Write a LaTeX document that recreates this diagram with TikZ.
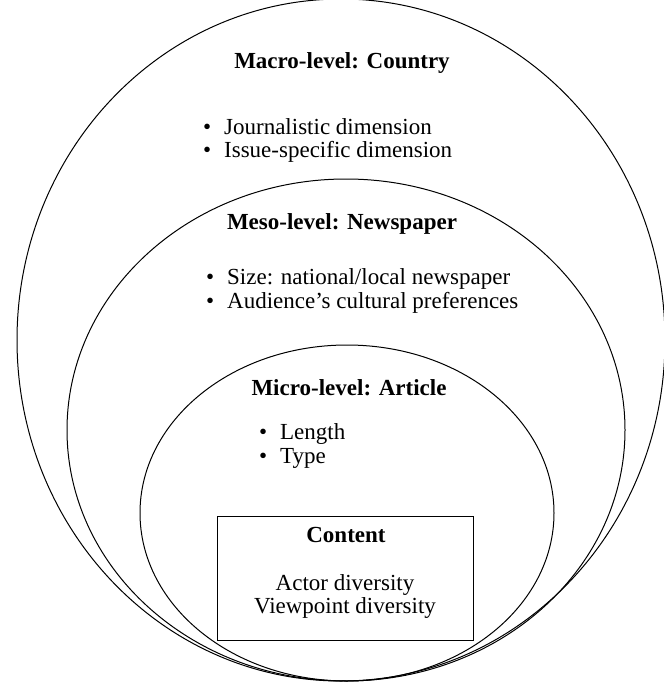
\documentclass[tikz,border=0pt]{standalone}
\usepackage{fontspec}
\setmainfont{Liberation Serif}
\usetikzlibrary{shapes.geometric}
\begin{document}
\begin{tikzpicture}[x=1pt,y=-1pt,
  ring/.style={draw, ellipse, line width=1pt, inner sep=0pt},
  head/.style={anchor=base, font=\fontsize{23}{24}\selectfont\bfseries, inner sep=0pt},
  item/.style={anchor=base west, font=\fontsize{23}{24}\selectfont, inner sep=0pt},
  plain/.style={anchor=base, font=\fontsize{23}{24}\selectfont, inner sep=0pt},
  box/.style={draw, line width=1pt, inner sep=0pt}]
\useasboundingbox (0,0) rectangle (664,683);
\node[ring, minimum width=648pt, minimum height=682pt] (outer) at (341,340) {};
\node[ring, minimum width=558pt, minimum height=502pt] (middle) at (346,430) {};
\node[ring, minimum width=414pt, minimum height=336pt] (inner) at (347,513) {};
\node[box, minimum width=256pt, minimum height=124pt] (content) at (345,578) {};

\node[head] (macro) at (342,68) {Macro-level: Country};
\node[item] (j) at (203,134) {\makebox[21pt][l]{\textbullet}Journalistic dimension};
\node[item] (i) at (203,157) {\makebox[21pt][l]{\textbullet}Issue-specific dimension};

\node[head] (meso) at (342,229) {Meso-level: Newspaper};
\node[item] (s) at (206,284) {\makebox[21pt][l]{\textbullet}Size: national/local newspaper};
\node[item] (a) at (206,308) {\makebox[21pt][l]{\textbullet}Audience’s cultural preferences};

\node[head] (micro) at (349,395) {Micro-level: Article};
\node[item] (l) at (259,439) {\makebox[21pt][l]{\textbullet}Length};
\node[item] (t) at (259,463) {\makebox[21pt][l]{\textbullet}Type};

\node[head] (ct) at (346,542) {Content};
\node[plain] (ad) at (345,590) {Actor diversity};
\node[plain] (vd) at (345,613) {Viewpoint diversity};
\end{tikzpicture}
\end{document}
